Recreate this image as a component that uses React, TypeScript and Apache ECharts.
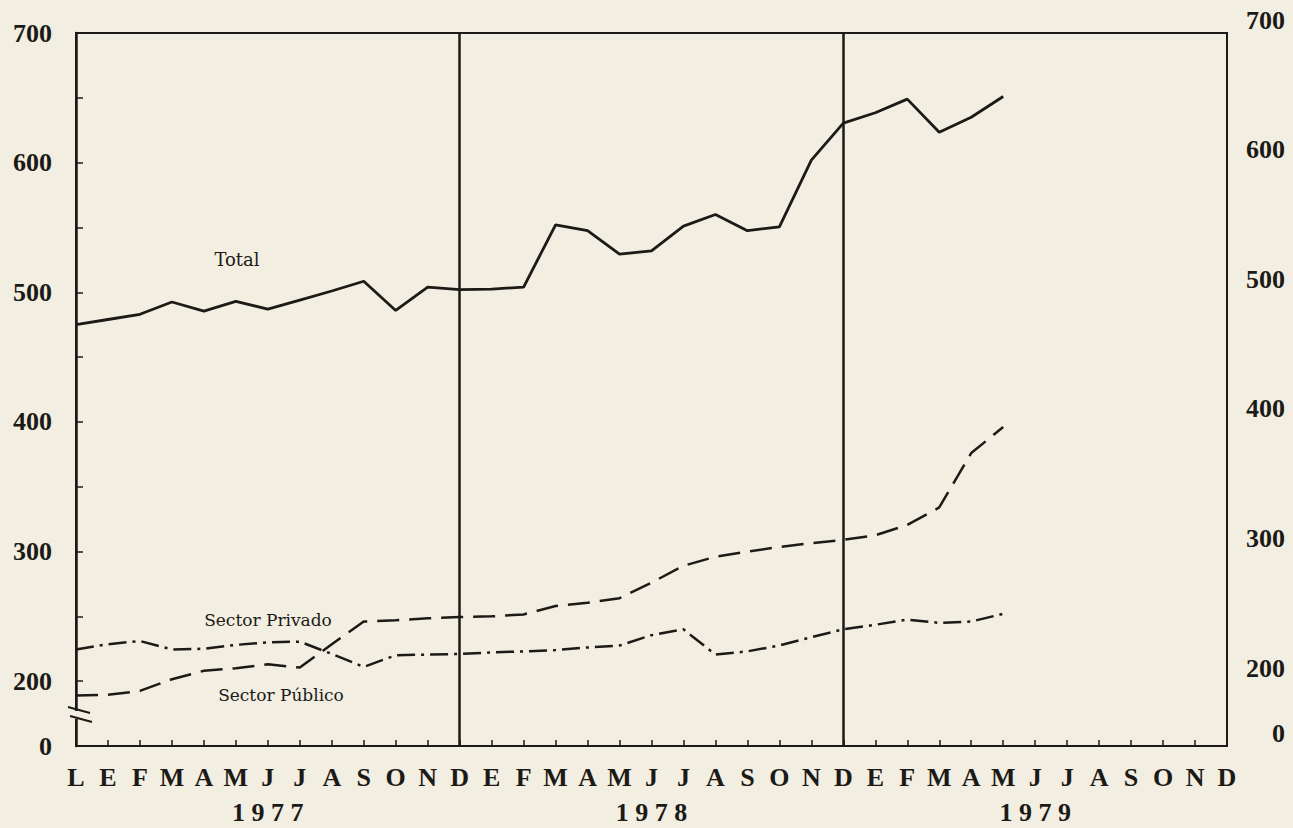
import React, { useEffect, useRef } from "react";
import * as echarts from "echarts";

// Month letters: Dec 1976, then Jan..Dec 1977, 1978, 1979
const monthLabels = [
  "L",
  "E", "F", "M", "A", "M", "J", "J", "A", "S", "O", "N", "D",
  "E", "F", "M", "A", "M", "J", "J", "A", "S", "O", "N", "D",
  "E", "F", "M", "A", "M", "J", "J", "A", "S", "O", "N", "D",
];
const categories = monthLabels.map((m, i) => `${m}-${i}`);

// Year captions under the month letters (index of the category they sit under)
const yearLabels: Record<number, string> = { 6: "1 9 7 7", 18: "1 9 7 8", 30: "1 9 7 9" };

// Values (Dec 1976 .. May 1979)
const total = [
  475, 479, 483, 492.5, 485.5, 493, 487, 494, 501, 508.5, 486, 504, 502,
  502.5, 504, 552, 547.5, 529.5, 532, 551, 560, 547.5, 550.5, 602, 630.5,
  638.5, 649, 623.5, 635, 651,
];
const sectorPrivado = [
  189, 189.5, 192.5, 201.5, 208, 210, 213, 210.5, 228.5, 246, 247, 248.5, 249.5,
  250, 251.5, 258, 260.5, 264, 276, 289, 296, 300, 303.5, 306.5, 309,
  312.5, 320.5, 334, 376, 396,
];
const sectorPublico = [
  224.5, 228.5, 231, 224.5, 225, 228, 230, 230.5, 221, 211, 220, 220.5, 221,
  222.2, 223, 224, 226, 227.5, 235.5, 240, 220.5, 223, 227.5, 234, 240,
  243.5, 247.5, 245, 246, 252,
];

// Y axis: broken axis, bottom labelled 0
const yMin = 150;
const yMax = 700;
const yStep = 50;
const yLabel = (v: number) => (v === yMin ? "0" : v % 100 === 0 ? String(v) : "");

const ink = "#1c1a17";
const paper = "#f2eee1";
const numFont = "'Liberation Serif', 'DejaVu Serif', serif";
const noteFont = "'DejaVu Serif', serif";

export default function App() {
  const ref = useRef<HTMLDivElement>(null);

  useEffect(() => {
    if (!ref.current) return;
    const chart = echarts.init(ref.current, undefined, { renderer: "svg" });
    chart.setOption({
      animation: false,
      backgroundColor: paper,
      grid: {
        left: 76,
        right: 66,
        top: 33,
        bottom: 82,
        show: true,
        borderColor: ink,
        borderWidth: 2,
        backgroundColor: "transparent",
      },
      xAxis: [
        {
          type: "category",
          data: categories,
          boundaryGap: false,
          axisLine: { show: true, lineStyle: { color: ink, width: 2 } },
          axisTick: { show: true, inside: true, length: 6, interval: 0, lineStyle: { color: ink, width: 1.5 } },
          axisLabel: {
            interval: 0,
            margin: 18,
            formatter: (_v: string, i: number) => monthLabels[i],
            color: ink,
            fontFamily: numFont,
            fontWeight: "bold",
            fontSize: 26,
          },
          splitLine: {
            show: true,
            interval: (i: number) => i === 12 || i === 24,
            lineStyle: { color: ink, width: 2.5 },
          },
        },
        {
          type: "category",
          data: categories,
          boundaryGap: false,
          position: "bottom",
          offset: 36,
          axisLine: { show: false },
          axisTick: { show: false },
          splitLine: { show: false },
          axisLabel: {
            interval: 0,
            margin: 17,
            formatter: (_v: string, i: number) => yearLabels[i] ?? "",
            color: ink,
            fontFamily: numFont,
            fontWeight: "bold",
            fontSize: 26,
          },
        },
      ],
      yAxis: [
        {
          type: "value",
          min: yMin,
          max: yMax,
          interval: yStep,
          position: "left",
          axisLine: { show: true, lineStyle: { color: ink, width: 2.5 } },
          axisTick: { show: true, inside: true, length: 7, lineStyle: { color: ink, width: 1.5 } },
          splitLine: { show: false },
          axisLabel: {
            formatter: yLabel,
            margin: 24,
            color: ink,
            fontFamily: numFont,
            fontWeight: "bold",
            fontSize: 26,
          },
        },
        {
          type: "value",
          min: yMin,
          max: yMax,
          interval: yStep,
          position: "right",
          axisLine: { show: true, lineStyle: { color: ink, width: 2 } },
          axisTick: { show: false },
          splitLine: { show: false },
          axisLabel: {
            formatter: yLabel,
            margin: 58,
            align: "right",
            verticalAlign: "bottom",
            color: ink,
            fontFamily: numFont,
            fontWeight: "bold",
            fontSize: 26,
          },
        },
      ],
      series: [
        {
          name: "Total",
          type: "line",
          data: total,
          showSymbol: false,
          lineStyle: { color: ink, width: 2.8, type: "solid" },
        },
        {
          name: "Sector Privado",
          type: "line",
          data: sectorPrivado,
          showSymbol: false,
          lineStyle: { color: ink, width: 2.5, type: [22, 10] },
        },
        {
          name: "Sector Público",
          type: "line",
          data: sectorPublico,
          showSymbol: false,
          lineStyle: { color: ink, width: 2.5, type: [18, 6, 3, 6] },
        },
      ],
      graphic: [
        {
          type: "text",
          style: { text: "Total", x: 237, y: 259, align: "center", verticalAlign: "middle", font: `18px ${noteFont}`, fill: ink },
        },
        {
          type: "text",
          style: { text: "Sector Privado", x: 268, y: 620, align: "center", verticalAlign: "middle", font: `17px ${noteFont}`, fill: ink },
        },
        {
          type: "text",
          style: { text: "Sector Público", x: 281, y: 695, align: "center", verticalAlign: "middle", font: `17px ${noteFont}`, fill: ink },
        },
        {
          type: "rect",
          shape: { x: 72, y: 711, width: 8, height: 8 },
          style: { fill: paper },
          z: 100,
        },
        {
          type: "line",
          shape: { x1: 68, y1: 707, x2: 90, y2: 713 },
          style: { stroke: ink, lineWidth: 2 },
          z: 101,
        },
        {
          type: "line",
          shape: { x1: 70, y1: 716, x2: 92, y2: 722 },
          style: { stroke: ink, lineWidth: 2 },
          z: 101,
        },
      ],
    });
    return () => chart.dispose();
  }, []);

  return (
    <div
      ref={ref}
      style={{ position: "fixed", left: 0, top: 0, width: 1293, height: 828, background: paper }}
    />
  );
}
